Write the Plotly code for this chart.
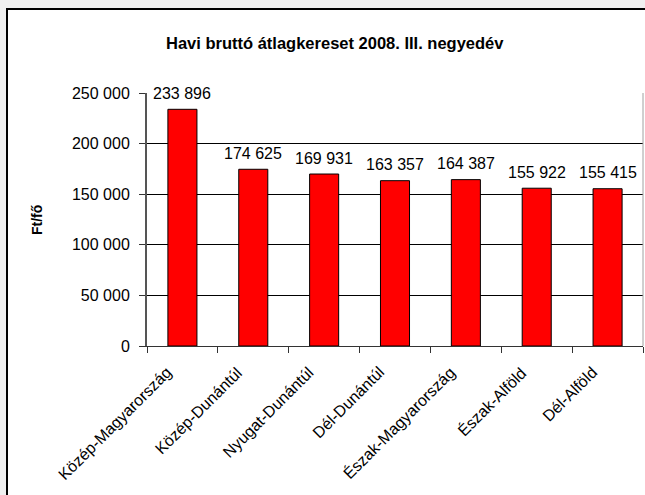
import plotly.graph_objects as go

categories = ["Közép-Magyarország", "Közép-Dunántúl", "Nyugat-Dunántúl", "Dél-Dunántúl",
              "Észak-Magyarország", "Észak-Alföld", "Dél-Alföld"]
values = [233896, 174625, 169931, 163357, 164387, 155922, 155415]
y_ticks = [0, 50000, 100000, 150000, 200000, 250000]

W, H = 645, 495
L, R, T, B = 147, 2, 93, 149
pw, ph = W - L - R, H - T - B

def px(x):
    return (x - L) / pw

def py(y):
    return (H - B - y) / ph

fig = go.Figure()
fig.add_trace(go.Bar(
    x=categories, y=values,
    marker=dict(color="#ff0000", line=dict(color="#000000", width=1)),
    width=0.41,
    hoverinfo="skip",
))

font = "Liberation Sans, Arial, sans-serif"

# value labels
for c, v in zip(categories, values):
    fig.add_annotation(x=c, y=v, text=f"{v:,}".replace(",", " "), showarrow=False,
                       yanchor="middle", yshift=16, font=dict(size=16, color="#000", family=font))

# rotated category labels
for c in categories:
    fig.add_annotation(x=c, y=0, xref="x", yref="y", text=c, showarrow=False, textangle=-45,
                       xanchor="right", yanchor="top", xshift=-5, yshift=-15,
                       font=dict(size=16, color="#000", family=font))

shapes = [
    dict(type="rect", xref="paper", yref="paper", x0=px(6), x1=px(660), y0=py(510), y1=py(9),
         fillcolor="white", line=dict(width=0), layer="below"),
    dict(type="line", xref="paper", yref="paper", x0=px(6), x1=px(660), y0=py(9), y1=py(9),
         line=dict(color="#000", width=2)),
    dict(type="line", xref="paper", yref="paper", x0=px(7), x1=px(7), y0=py(9), y1=py(510),
         line=dict(color="#000", width=2)),
    dict(type="line", xref="paper", yref="paper", x0=1, x1=1, y0=0, y1=1,
         line=dict(color="#a0a0a0", width=1)),
]

fig.update_layout(
    width=W, height=H,
    margin=dict(l=L, r=R, t=T, b=B, pad=0),
    paper_bgcolor="#f0f0f0",
    plot_bgcolor="white",
    separators=", ",
    showlegend=False,
    shapes=shapes,
    font=dict(family=font, size=16, color="#000"),
    annotations=list(fig.layout.annotations) + [
        dict(text="<b>Havi bruttó átlagkereset 2008. III. negyedév</b>", xref="paper", yref="paper",
             x=px(335), y=py(43), xanchor="center", yanchor="middle", showarrow=False,
             font=dict(size=16.5, family=font, color="#000")),
        dict(text="<b>Ft/fő</b>", xref="paper", yref="paper", x=px(37), y=py(220),
             xanchor="center", yanchor="middle", textangle=-90, showarrow=False,
             font=dict(size=14, family=font, color="#000")),
    ],
    xaxis=dict(
        type="category", categoryorder="array", categoryarray=categories,
        range=[-0.5, len(categories) - 0.5], autorange=False,
        tickson="boundaries", ticks="outside", ticklen=6, tickcolor="#333",
        showticklabels=False, showgrid=False, showline=True, linecolor="#333", linewidth=1,
        fixedrange=True,
    ),
    yaxis=dict(
        range=[0, 250000], autorange=False, tickvals=y_ticks, tickformat=",d", ticks="outside", ticklen=6,
        tickcolor="#333", showline=True, linecolor="#555", linewidth=2,
        showgrid=True, gridcolor="#000", gridwidth=1, zeroline=False,
        ticklabelstandoff=6,
        tickfont=dict(size=16, family=font, color="#000"), fixedrange=True,
    ),
)

fig.write_html("out.html", config={"displayModeBar": False},
               post_script="document.body.style.margin='0';document.body.style.overflow='hidden';")
